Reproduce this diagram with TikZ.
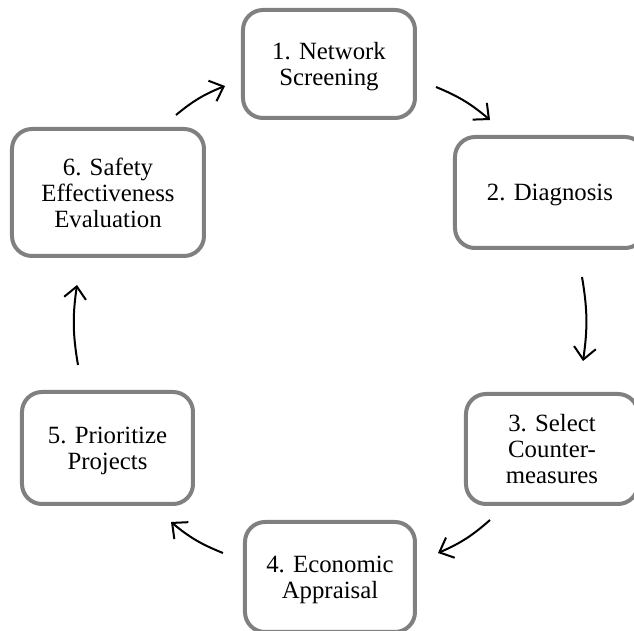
\documentclass[tikz,border=0pt]{standalone}
\usepackage{fontspec}
\setmainfont{Liberation Serif}
\usepackage{tikz}
\usetikzlibrary{arrows.meta}
\usetikzlibrary{positioning}
\tikzset{
    stage/.style={draw=black!50, line width=2pt, rounded corners=10pt, fill=white,
        align=center, inner sep=0pt, text depth=0pt, font=\fontsize{12.4}{13}\selectfont},
    cyc/.style={line width=1pt, -{Straight Barb[length=6pt,width=11pt,line width=1pt]}, bend left=9}
}

\begin{document}
\begin{tikzpicture}[x=0.5pt,y=-0.5pt]
    \useasboundingbox (0,0) rectangle (634,631);
    \node[stage, minimum width=86pt, minimum height=54pt] (screen) at (329,64) {1. Network\\Screening};
    \node[stage, minimum width=95pt, minimum height=55.5pt] (diag) at (550,192.5) {2. Diagnosis};
    \node[stage, minimum width=86pt, minimum height=55pt] (counter) at (552,449) {3. Select\\Counter-\\measures};
    \node[stage, minimum width=85pt, minimum height=55pt] (econ) at (330,577) {4. Economic\\Appraisal};
    \node[stage, minimum width=85.5pt, minimum height=56pt] (prior) at (107.5,448) {5. Prioritize\\Projects};
    \node[stage, minimum width=96pt, minimum height=63.5pt] (eval) at (108,192.5) {6. Safety\\Effectiveness\\Evaluation};
    % arrows round the cycle
    \draw[cyc] ([shift={(-30,-12)}]eval.north east) to ([shift={(-16,22)}]screen.west);
    \draw[cyc] ([shift={(19,23)}]screen.east) to ([shift={(37,-15)}]diag.north west);
    \draw[cyc] ([shift={(32,27)}]diag.south) to ([shift={(31,-31)}]counter.north);
    \draw[cyc] ([shift={(26,14)}]counter.south west) to ([shift={(21,-24)}]econ.east);
    \draw[cyc] ([shift={(-20,-24)}]econ.west) to ([shift={(-24,16)}]prior.south east);
    \draw[cyc] ([shift={(-29.5,-25)}]prior.north) to ([shift={(-31,27)}]eval.south);
\end{tikzpicture}
\end{document}
